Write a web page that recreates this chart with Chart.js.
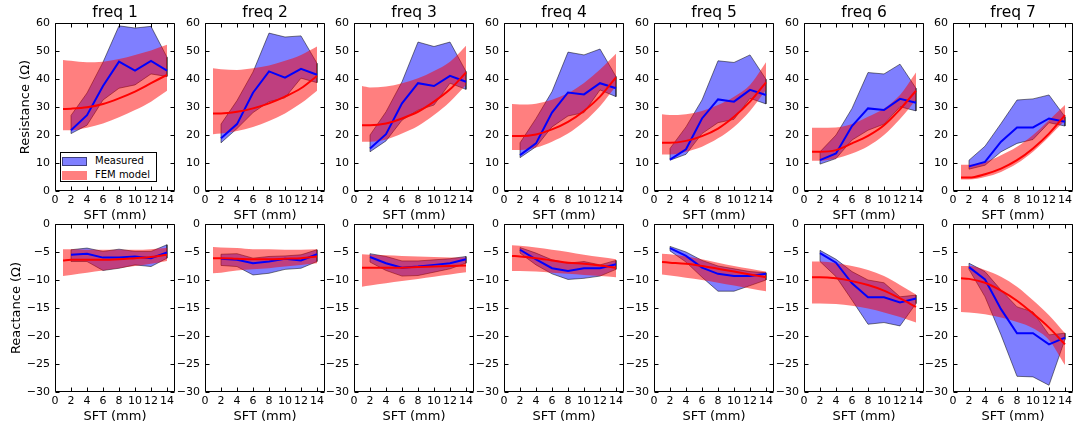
<!DOCTYPE html>
<html>
<head>
<meta charset="utf-8">
<script src="https://cdn.jsdelivr.net/npm/chart.js@4.4.1/dist/chart.umd.min.js"></script>
<style>
  html, body { margin: 0; padding: 0; background: #fff; }
  #fig { position: relative; width: 1073px; height: 428px; overflow: hidden; background: #fff; }
  #fig canvas { position: absolute; }
  .legend { position: absolute; left: 60px; top: 152px; width: 95px; height: 28px;
            border: 1px solid #000; background: #fff; font: 10px "DejaVu Sans", sans-serif; color: #000; z-index: 5; }
  .legend .row { position: absolute; left: 0; height: 12px; width: 95px; }
  .legend .patch { position: absolute; left: 1px; top: 1px; width: 25px; height: 9px; box-sizing: border-box; }
  .legend .lbl { position: absolute; left: 34px; top: -1px; line-height: 12px; white-space: nowrap; }
</style>
</head>
<body>
<div id="fig">
  <div class="legend">
    <div class="row" style="top:3px"><div class="patch" style="background:rgba(0,0,255,0.5);border:1px solid rgba(0,0,0,0.5)"></div><span class="lbl">Measured</span></div>
    <div class="row" style="top:17px"><div class="patch" style="background:rgba(255,0,0,0.5)"></div><span class="lbl">FEM model</span></div>
  </div>
</div>
<script>
// Frequencies (one column per frequency)
const panelTitles = ['freq 1', 'freq 2', 'freq 3', 'freq 4', 'freq 5', 'freq 6', 'freq 7'];

// Subcutaneous fat thickness sampling (mm)
const sftMeasured = [2, 4, 6, 8, 10, 12, 14];
const sftModel = [1, 2, 4, 6, 8, 10, 12, 14];

// Tick labels
const sftTicks = [0, 2, 4, 6, 8, 10, 12, 14];
const resTicks = [0, 10, 20, 30, 40, 50, 60];
const reacTicks = [-30, -25, -20, -15, -10, -5, 0];

// Resistance (Ohm): measured mean / min / max, one row per frequency
const resMeasMean = [
  [21.7, 27.1, 37.5, 46.2, 43.0, 46.5, 43.0],
  [18.8, 23.9, 35.1, 42.7, 40.5, 43.6, 41.5],
  [15.2, 20.3, 31.3, 38.5, 37.5, 41.1, 39.0],
  [12.8, 17.0, 28.0, 35.2, 34.5, 38.5, 36.7],
  [11.2, 14.9, 25.9, 32.7, 31.9, 36.1, 34.3],
  [11.0, 13.4, 23.2, 29.5, 28.9, 32.9, 31.5],
  [8.8, 10.4, 17.6, 22.7, 22.7, 25.9, 24.7]
];
const resMeasMin = [
  [20.5, 23.5, 32.5, 36.7, 37.9, 41.8, 40.9],
  [17.2, 22.3, 28.0, 31.9, 33.3, 40.3, 38.7],
  [14.0, 17.9, 25.3, 28.9, 30.7, 38.5, 36.3],
  [11.9, 15.8, 22.9, 26.8, 28.0, 36.1, 33.7],
  [11.0, 13.1, 20.5, 24.4, 25.6, 33.1, 31.1],
  [9.6, 11.6, 18.2, 21.7, 23.9, 30.1, 28.6],
  [7.8, 9.2, 14.0, 17.0, 18.4, 24.4, 23.2]
];
const resMeasMax = [
  [27.0, 35.0, 46.0, 59.0, 58.2, 58.8, 47.8],
  [23.9, 32.3, 42.5, 56.4, 55.0, 55.4, 45.6],
  [20.0, 28.3, 39.0, 53.2, 51.6, 53.2, 42.7],
  [17.2, 25.9, 35.5, 49.6, 48.6, 50.7, 40.9],
  [15.2, 22.9, 32.5, 46.5, 45.9, 48.6, 39.9],
  [14.0, 20.0, 29.5, 42.3, 41.8, 45.3, 36.7],
  [11.0, 16.0, 24.1, 32.5, 32.9, 34.3, 26.5]
];

// Resistance (Ohm): FEM model curve and its band
const resFemMean = [
  [29.3, 29.4, 29.9, 31.1, 33.1, 35.5, 38.5, 41.5],
  [27.7, 27.7, 28.3, 29.5, 31.3, 33.7, 36.7, 41.1],
  [23.5, 23.5, 24.1, 25.9, 28.3, 31.9, 36.3, 42.3],
  [19.6, 19.6, 20.2, 22.0, 24.7, 28.6, 33.7, 40.6],
  [17.2, 17.2, 17.9, 19.6, 22.3, 26.5, 31.9, 38.8],
  [14.0, 14.0, 14.6, 17.0, 19.7, 23.5, 29.2, 35.8],
  [4.8, 4.8, 6.0, 8.0, 11.0, 15.2, 20.5, 27.1]
];
const resFemLow = [
  [21.7, 21.7, 22.6, 24.1, 26.3, 28.9, 31.9, 35.8],
  [20.3, 20.5, 21.4, 22.9, 25.0, 27.7, 31.3, 35.8],
  [17.6, 17.6, 18.4, 20.5, 23.2, 27.1, 31.9, 37.9],
  [14.6, 14.6, 15.5, 17.6, 20.5, 24.7, 30.3, 37.5],
  [13.0, 13.0, 14.0, 15.8, 18.8, 22.9, 28.6, 36.1],
  [10.8, 10.8, 11.6, 13.4, 16.0, 20.0, 25.7, 32.5],
  [4.1, 4.1, 5.0, 6.8, 9.8, 14.0, 19.4, 25.3]
];
const resFemHigh = [
  [46.8, 46.5, 46.0, 46.2, 47.1, 48.6, 50.2, 52.2],
  [43.8, 43.5, 43.2, 43.8, 44.8, 46.5, 48.6, 51.6],
  [37.5, 37.0, 37.3, 38.5, 40.3, 42.9, 46.2, 51.9],
  [31.1, 30.9, 31.2, 32.6, 35.0, 38.6, 43.4, 49.0],
  [27.4, 27.1, 27.4, 28.6, 30.7, 33.7, 37.9, 46.0],
  [22.6, 22.6, 22.7, 23.9, 26.5, 29.5, 34.3, 42.3],
  [9.4, 9.4, 10.4, 12.8, 15.8, 20.0, 25.3, 30.7]
];

// Reactance (Ohm): measured mean / min / max
const reacMeasMean = [
  [-5.5, -5.3, -6.0, -6.0, -5.8, -6.1, -5.1],
  [-6.2, -6.4, -7.0, -6.7, -6.2, -6.5, -5.4],
  [-5.9, -7.0, -7.8, -7.6, -7.3, -7.0, -6.3],
  [-4.6, -6.3, -7.9, -8.4, -7.9, -7.9, -7.2],
  [-4.3, -5.7, -7.8, -8.9, -9.3, -9.3, -8.9],
  [-5.2, -6.9, -10.6, -13.1, -13.1, -14.0, -13.3],
  [-7.7, -9.9, -15.2, -19.5, -19.5, -21.5, -20.3]
];
const reacMeasMin = [
  [-6.7, -6.7, -8.3, -7.9, -7.3, -7.6, -6.1],
  [-7.4, -7.6, -9.1, -8.8, -8.1, -7.9, -6.7],
  [-6.8, -8.3, -9.3, -9.2, -8.6, -8.0, -7.0],
  [-5.2, -7.3, -8.9, -9.9, -9.7, -9.3, -8.1],
  [-4.8, -6.8, -9.5, -12.0, -12.0, -11.0, -10.0],
  [-6.7, -9.4, -13.6, -17.9, -17.6, -18.2, -14.2],
  [-8.1, -13.0, -19.8, -27.2, -27.3, -28.8, -20.6]
];
const reacMeasMax = [
  [-4.6, -4.3, -4.9, -4.5, -4.9, -4.9, -3.7],
  [-5.4, -5.3, -6.1, -5.8, -5.7, -5.5, -4.6],
  [-5.3, -5.8, -6.6, -6.6, -6.4, -6.2, -5.8],
  [-4.2, -5.2, -6.4, -7.0, -6.7, -7.3, -6.5],
  [-4.0, -5.0, -6.5, -7.5, -8.0, -8.5, -8.7],
  [-4.7, -6.3, -8.5, -10.0, -10.5, -13.0, -12.7],
  [-7.0, -8.5, -11.8, -14.8, -15.7, -19.8, -19.5]
];

// Reactance (Ohm): FEM model curve and its band
const reacFemMean = [
  [-6.5, -6.4, -6.4, -6.4, -6.3, -6.1, -5.9, -5.5],
  [-6.1, -6.1, -6.2, -6.3, -6.3, -6.2, -6.1, -5.8],
  [-7.8, -7.8, -7.8, -7.8, -7.7, -7.6, -7.5, -7.4],
  [-5.7, -5.8, -6.1, -6.5, -6.9, -7.1, -7.4, -7.8],
  [-6.8, -6.9, -7.1, -7.5, -8.0, -8.5, -9.0, -9.5],
  [-9.5, -9.5, -9.7, -10.2, -10.9, -11.9, -13.3, -14.8],
  [-9.7, -9.8, -10.5, -11.9, -13.7, -16.0, -18.5, -21.5]
];
const reacFemLow = [
  [-9.3, -9.1, -8.7, -8.3, -7.9, -7.5, -7.1, -6.6],
  [-8.8, -8.7, -8.3, -8.1, -7.9, -7.6, -7.3, -7.0],
  [-11.2, -11.0, -10.6, -10.2, -9.8, -9.4, -9.0, -8.6],
  [-8.4, -8.4, -8.5, -8.7, -8.9, -9.1, -9.3, -9.5],
  [-9.0, -9.2, -9.6, -10.0, -10.5, -11.0, -11.5, -12.0],
  [-14.2, -14.2, -14.3, -14.6, -15.1, -15.8, -16.6, -17.6],
  [-15.7, -15.8, -16.1, -16.7, -17.5, -18.6, -20.7, -25.2]
];
const reacFemHigh = [
  [-4.5, -4.5, -4.6, -4.6, -4.6, -4.6, -4.5, -4.3],
  [-4.1, -4.2, -4.3, -4.5, -4.5, -4.6, -4.6, -4.5],
  [-5.4, -5.5, -5.6, -5.7, -5.8, -5.9, -6.0, -6.0],
  [-3.8, -3.9, -4.2, -4.6, -5.0, -5.5, -5.9, -6.3],
  [-5.3, -5.4, -5.8, -6.3, -6.9, -7.5, -8.0, -8.5],
  [-6.7, -6.7, -7.0, -7.5, -8.2, -9.3, -10.9, -12.6],
  [-7.5, -7.5, -8.2, -9.4, -11.2, -13.6, -16.3, -19.5]
];

Chart.defaults.font.family = '"DejaVu Sans", sans-serif';
Chart.defaults.color = '#000';

const BLUE_FILL = 'rgba(0,0,255,0.5)';
const RED_FILL = 'rgba(255,0,0,0.5)';
const EDGE = 'rgba(0,0,0,0.5)';
const NONE = 'rgba(0,0,0,0)';

const fmtTick = v => String(v).replace('-', '\u2212');
const pts = (xs, ys) => xs.map((x, i) => ({ x: x, y: ys[i] }));
// Closed outline of a min/max band: along the top, back along the bottom
const outline = (xs, lo, hi) => pts(xs, hi)
  .concat(pts(xs, lo).reverse())
  .concat([{ x: xs[0], y: hi[0] }]);

// Axes box with inward tick marks on all four sides
const framePlugin = {
  id: 'frame',
  afterDatasetsDraw(chart) {
    const { ctx, chartArea: a, scales: { x, y } } = chart;
    const L = Math.round(a.left) + 0.5, R = Math.round(a.right) - 0.5;
    const T = Math.round(a.top) + 0.5, B = Math.round(a.bottom) - 0.5;
    const len = 4;
    ctx.save();
    ctx.strokeStyle = '#000';
    ctx.lineWidth = 1;
    ctx.beginPath();
    ctx.rect(L, T, R - L, B - T);
    x.ticks.forEach(t => {
      const px = Math.round(x.getPixelForValue(t.value)) + 0.5;
      ctx.moveTo(px, B); ctx.lineTo(px, B - len);
      ctx.moveTo(px, T); ctx.lineTo(px, T + len);
    });
    y.ticks.forEach(t => {
      const py = Math.round(y.getPixelForValue(t.value)) + 0.5;
      ctx.moveTo(L, py); ctx.lineTo(L + len, py);
      ctx.moveTo(R, py); ctx.lineTo(R - len, py);
    });
    ctx.stroke();
    ctx.restore();
  }
};

const fig = document.getElementById('fig');
const AXIS_W = 55, PLOT_W = 120, RIGHT_PAD = 20;
const TOP_SPACE = 23, PLOT_H = 168, XAXIS_H = 34;

function makePanel(row, col) {
  const isRes = row === 0;
  const mMean = (isRes ? resMeasMean : reacMeasMean)[col];
  const mMin = (isRes ? resMeasMin : reacMeasMin)[col];
  const mMax = (isRes ? resMeasMax : reacMeasMax)[col];
  const fMean = (isRes ? resFemMean : reacFemMean)[col];
  const fLow = (isRes ? resFemLow : reacFemLow)[col];
  const fHigh = (isRes ? resFemHigh : reacFemHigh)[col];
  const yTicks = isRes ? resTicks : reacTicks;

  const plotLeft = Math.round(55 + col * 149.7);
  const canvas = document.createElement('canvas');
  const W = AXIS_W + PLOT_W + RIGHT_PAD;
  const H = TOP_SPACE + PLOT_H + XAXIS_H;
  canvas.width = W; canvas.height = H;
  canvas.style.left = (plotLeft - AXIS_W) + 'px';
  canvas.style.top = (row === 0 ? 0 : 201) + 'px';
  canvas.style.width = W + 'px'; canvas.style.height = H + 'px';
  fig.appendChild(canvas);

  new Chart(canvas, {
    type: 'line',
    data: {
      datasets: [
        { label: 'Measured max', data: pts(sftMeasured, mMax), borderColor: NONE, borderWidth: 0,
          pointRadius: 0, fill: false, tension: 0, order: 4 },
        { label: 'Measured min', data: pts(sftMeasured, mMin), borderColor: NONE, borderWidth: 0,
          pointRadius: 0, fill: '-1', backgroundColor: BLUE_FILL, tension: 0, order: 4 },
        { label: 'Measured range edge', data: outline(sftMeasured, mMin, mMax), borderColor: EDGE,
          borderWidth: 1, pointRadius: 0, fill: false, tension: 0, order: 3.5 },
        { label: 'FEM high', data: pts(sftModel, fHigh), borderColor: NONE, borderWidth: 0,
          pointRadius: 0, fill: false, cubicInterpolationMode: 'monotone', order: 3 },
        { label: 'FEM low', data: pts(sftModel, fLow), borderColor: NONE, borderWidth: 0,
          pointRadius: 0, fill: '-1', backgroundColor: RED_FILL, cubicInterpolationMode: 'monotone', order: 3 },
        { label: 'Measured', data: pts(sftMeasured, mMean), borderColor: '#0000ff', borderWidth: 2,
          pointRadius: 0, fill: false, tension: 0, order: 2 },
        { label: 'FEM model', data: pts(sftModel, fMean), borderColor: '#ff0000', borderWidth: 2,
          pointRadius: 0, fill: false, cubicInterpolationMode: 'monotone', order: 1 }
      ]
    },
    options: {
      responsive: false,
      animation: false,
      devicePixelRatio: 1,
      events: [],
      layout: { padding: { left: 0, right: RIGHT_PAD, top: row === 0 ? 0 : TOP_SPACE, bottom: 0 } },
      plugins: {
        legend: { display: false },
        tooltip: { enabled: false },
        title: {
          display: row === 0,
          text: panelTitles[col],
          fullSize: false,
          color: '#000',
          font: { size: 15.5, weight: 'normal' },
          padding: { top: 4, bottom: 0.4 }
        }
      },
      scales: {
        x: {
          type: 'linear', min: 0, max: 15,
          grid: { display: false, drawTicks: false },
          border: { display: false },
          afterBuildTicks: s => { s.ticks = sftTicks.map(v => ({ value: v })); },
          ticks: { autoSkip: false, maxRotation: 0, minRotation: 0, padding: 3, color: '#000',
                   font: { size: 11 }, callback: v => fmtTick(v) },
          title: { display: true, text: 'SFT (mm)', color: '#000', font: { size: 13 },
                   padding: { top: 0, bottom: 1.2 } },
          afterFit: s => { s.height = XAXIS_H; s.paddingLeft = 0; s.paddingRight = 0; }
        },
        y: {
          type: 'linear', min: yTicks[0], max: yTicks[yTicks.length - 1],
          grid: { display: false, drawTicks: false },
          border: { display: false },
          afterBuildTicks: s => { s.ticks = yTicks.map(v => ({ value: v })); },
          ticks: { padding: 5, color: '#000', font: { size: 11 }, callback: v => fmtTick(v) },
          title: { display: col === 0, text: isRes ? 'Resistance (\u03A9)' : 'Reactance (\u03A9)',
                   color: '#000', font: { size: 13 },
                   padding: { top: isRes ? 18 : 9, bottom: 0 } },
          afterFit: s => { s.width = AXIS_W; s.paddingTop = 0; s.paddingBottom = 0; }
        }
      }
    },
    plugins: [framePlugin]
  });
}

for (let r = 0; r < 2; r++) {
  for (let c = 0; c < 7; c++) makePanel(r, c);
}
</script>
</body>
</html>
